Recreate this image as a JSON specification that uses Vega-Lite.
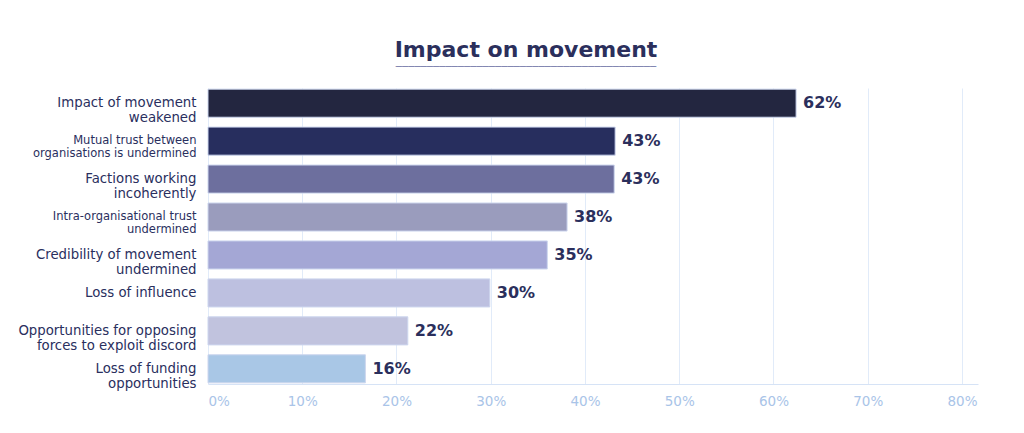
{
  "$schema": "https://vega.github.io/schema/vega-lite/v6.json",
  "autosize": {"type": "none"},
  "width": 770,
  "height": 296,
  "padding": {"left": 208, "top": 88, "right": 46, "bottom": 49},
  "background": "#ffffff",
  "title": {
    "text": "Impact on movement",
    "subtitle": "──────────────────────────────────────────",
    "anchor": "middle",
    "frame": "group",
    "dx": -67,
    "offset": 15,
    "font": "DejaVu Sans",
    "fontSize": 22,
    "fontWeight": "bold",
    "color": "#2b2f5c",
    "subtitleFont": "DejaVu Sans",
    "subtitleFontSize": 10.3,
    "subtitleColor": "#7b80ad",
    "subtitlePadding": 0
  },
  "data": {
    "values": [
      {"category": "Impact of movement|weakened", "value": 62.4, "label": "62%"},
      {"category": "Mutual trust between|organisations is undermined", "value": 43.2, "label": "43%"},
      {"category": "Factions working|incoherently", "value": 43.1, "label": "43%"},
      {"category": "Intra-organisational trust|undermined", "value": 38.1, "label": "38%"},
      {"category": "Credibility of movement|undermined", "value": 36.0, "label": "35%"},
      {"category": "Loss of influence", "value": 29.9, "label": "30%"},
      {"category": "Opportunities for opposing|forces to exploit discord", "value": 21.2, "label": "22%"},
      {"category": "Loss of funding|opportunities", "value": 16.7, "label": "16%"}
    ]
  },
  "encoding": {
    "y": {
      "field": "category",
      "type": "nominal",
      "sort": null,
      "scale": {"paddingInner": 0.26, "paddingOuter": 0.03},
      "axis": {
        "title": null,
        "domain": false,
        "ticks": false,
        "grid": false,
        "labelPadding": 12,
        "labelExpr": "split(datum.value, '|')",
        "labelFont": "DejaVu Sans",
        "labelFontSize": {"expr": "(indexof(datum.value, 'Mutual') >= 0 || indexof(datum.value, 'Intra') >= 0) ? 11.5 : 13.3"},
        "labelLineHeight": {"expr": "(indexof(datum.value, 'Mutual') >= 0 || indexof(datum.value, 'Intra') >= 0) ? 13 : 15"},
        "labelColor": "#2a2f5e",
        "labelAlign": "right",
        "labelBaseline": "middle",
        "labelLimit": 300
      }
    },
    "x": {
      "field": "value",
      "type": "quantitative",
      "scale": {"domain": [0, 81.7], "nice": false, "zero": true},
      "axis": {
        "title": null,
        "values": [0, 10, 20, 30, 40, 50, 60, 70, 80],
        "labelExpr": "datum.value + '%'",
        "ticks": false,
        "domain": true,
        "domainColor": "#d6e3f6",
        "gridColor": "#e1ebf9",
        "gridOpacity": 1,
        "labelColor": "#a9c4e8",
        "labelFont": "DejaVu Sans",
        "labelFontSize": 13.5,
        "labelPadding": 10
      }
    }
  },
  "layer": [
    {
      "mark": {"type": "bar", "stroke": "#cdd6ee", "strokeWidth": 1},
      "encoding": {
        "color": {
          "field": "category",
          "type": "nominal",
          "legend": null,
          "scale": {
            "domain": [
              "Impact of movement|weakened",
              "Mutual trust between|organisations is undermined",
              "Factions working|incoherently",
              "Intra-organisational trust|undermined",
              "Credibility of movement|undermined",
              "Loss of influence",
              "Opportunities for opposing|forces to exploit discord",
              "Loss of funding|opportunities"
            ],
            "range": ["#232640", "#272e5e", "#6d6f9e", "#9a9cbd", "#a4a7d5", "#bdc0e0", "#c1c3de", "#a9c7e6"]
          }
        }
      }
    },
    {
      "mark": {
        "type": "text",
        "align": "left",
        "baseline": "middle",
        "dx": 7,
        "font": "DejaVu Sans",
        "fontSize": 16,
        "fontWeight": "bold",
        "color": "#2b2f5c"
      },
      "encoding": {"text": {"field": "label"}}
    }
  ],
  "config": {"view": {"stroke": null}}
}
